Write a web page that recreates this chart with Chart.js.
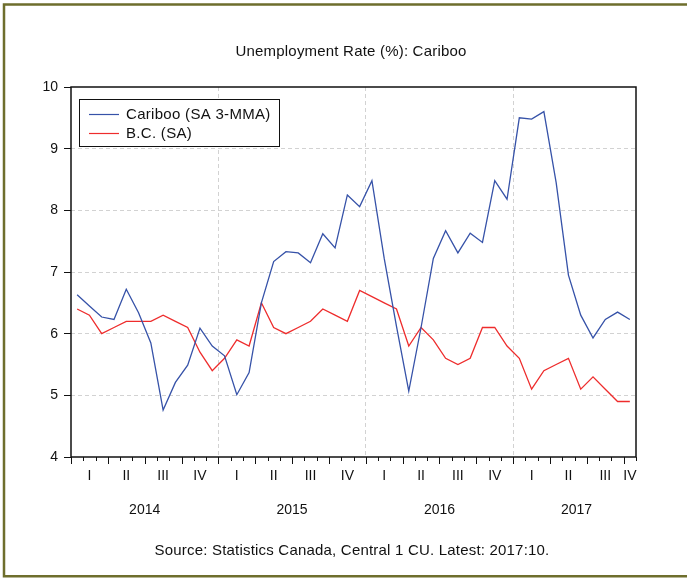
<!DOCTYPE html>
<html>
<head>
<meta charset="utf-8">
<script src="https://cdn.jsdelivr.net/npm/chart.js@4.4.0/dist/chart.umd.min.js"></script>
<style>
html, body { margin: 0; padding: 0; background: #fff; }
</style>
</head>
<body>
<canvas id="unempChart" width="687" height="578"></canvas>
<script>
// monthly data, Jan 2014 .. Oct 2017
var years = ['2014', '2015', '2016', '2017'];
var quarters = ['I', 'II', 'III', 'IV'];

var cariboo = [
	6.63, 6.45, 6.27, 6.23, 6.72, 6.34, 5.85, 4.76, 5.21, 5.49, 6.09, 5.80,
	5.64, 5.01, 5.37, 6.50, 7.17, 7.33, 7.31, 7.15, 7.62, 7.39, 8.25, 8.06,
	8.48, 7.22, 6.12, 5.07, 6.10, 7.22, 7.67, 7.31, 7.63, 7.48, 8.48, 8.18,
	9.50, 9.48, 9.60, 8.45, 6.95, 6.30, 5.93, 6.23, 6.35, 6.23
];
var bc = [
	6.4, 6.3, 6.0, 6.1, 6.2, 6.2, 6.2, 6.3, 6.2, 6.1, 5.7, 5.4,
	5.6, 5.9, 5.8, 6.5, 6.1, 6.0, 6.1, 6.2, 6.4, 6.3, 6.2, 6.7,
	6.6, 6.5, 6.4, 5.8, 6.1, 5.9, 5.6, 5.5, 5.6, 6.1, 6.1, 5.8,
	5.6, 5.1, 5.4, 5.5, 5.6, 5.1, 5.3, 5.1, 4.9, 4.9
];
var yTicks = [4, 5, 6, 7, 8, 9, 10];

var nMonths = cariboo.length;
var FONT = '"Liberation Sans", Arial, sans-serif';

function toPoints(arr) {
	return arr.map(function (v, i) { return { x: i + 0.5, y: v }; });
}

// titles, x axis labels, frame and legend
var chartText = {
	id: 'chartText',
	afterDraw: function (chart) {
		var ctx = chart.ctx, a = chart.chartArea, xs = chart.scales.x;
		ctx.save();

		// outer olive frame
		ctx.strokeStyle = '#6e6e2c';
		ctx.lineWidth = 2.5;
		ctx.beginPath();
		ctx.moveTo(720, 4.5);
		ctx.lineTo(4, 4.5);
		ctx.lineTo(4, 576.2);
		ctx.lineTo(720, 576.2);
		ctx.stroke();

		// plot box
		ctx.strokeStyle = '#111';
		ctx.lineWidth = 1.5;
		ctx.strokeRect(a.left, a.top, a.right - a.left, a.bottom - a.top);

		// month / quarter ticks
		ctx.lineWidth = 1;
		ctx.beginPath();
		for (var m = 0; m <= nMonths; m++) {
			var px = Math.round(xs.getPixelForValue(m)) + 0.5;
			var len = (m % 3 === 0) ? 7 : 4;
			ctx.moveTo(px, a.bottom);
			ctx.lineTo(px, a.bottom + len);
		}
		ctx.stroke();

		ctx.fillStyle = '#111';
		ctx.textAlign = 'center';
		ctx.textBaseline = 'middle';
		ctx.font = '14px ' + FONT;

		for (var q = 0; q * 3 < nMonths; q++) {
			var s = q * 3, e = Math.min(s + 3, nMonths);
			ctx.fillText(quarters[q % 4], xs.getPixelForValue((s + e) / 2), 476);
		}
		years.forEach(function (y, k) {
			var s = k * 12, e = Math.min(s + 12, nMonths);
			ctx.fillText(y, xs.getPixelForValue((s + e) / 2) + (e - s < 12 ? 2 : 0), 510);
		});

		ctx.font = '15px ' + FONT;
		ctx.letterSpacing = '0.2px';
		ctx.fillText('Unemployment Rate (%): Cariboo', 351, 52);
		ctx.fillText('Source: Statistics Canada, Central 1 CU. Latest: 2017:10.', 352, 551);

		// legend box
		ctx.fillStyle = '#fff';
		ctx.fillRect(79.5, 99.5, 200, 47);
		ctx.strokeStyle = '#111';
		ctx.lineWidth = 1;
		ctx.strokeRect(79.5, 99.5, 200, 47);
		ctx.textAlign = 'left';
		ctx.letterSpacing = '0.3px';
		chart.data.datasets.forEach(function (ds, i) {
			var ly = 114.5 + i * 19;
			ctx.strokeStyle = ds.borderColor;
			ctx.lineWidth = 1.2;
			ctx.beginPath();
			ctx.moveTo(89, ly);
			ctx.lineTo(119, ly);
			ctx.stroke();
			ctx.fillStyle = '#111';
			ctx.fillText(ds.label, 126, ly);
		});

		ctx.restore();
	}
};

var ctx = document.getElementById('unempChart');
var unempChart = new Chart(ctx, {
	type: 'line',
	data: {
		datasets: [
			{
				label: 'Cariboo (SA 3-MMA)',
				data: toPoints(cariboo),
				borderColor: '#3652a8',
				borderWidth: 1.3,
				pointRadius: 0,
				tension: 0,
				fill: false
			},
			{
				label: 'B.C. (SA)',
				data: toPoints(bc),
				borderColor: '#ee2c2c',
				borderWidth: 1.3,
				pointRadius: 0,
				tension: 0,
				fill: false
			}
		]
	},
	options: {
		responsive: false,
		animation: false,
		layout: { padding: { left: 0, top: 87, right: 51, bottom: 121 } },
		plugins: {
			legend: { display: false },
			tooltip: { enabled: false },
			title: { display: false }
		},
		scales: {
			x: {
				type: 'linear',
				min: 0,
				max: nMonths,
				afterBuildTicks: function (scale) {
					scale.ticks = [12, 24, 36].map(function (v) { return { value: v }; });
				},
				afterFit: function (scale) { scale.height = 0; },
				ticks: { display: false },
				grid: { color: '#d2d2d2', lineWidth: 1, drawTicks: false },
				border: { display: false, dash: [4, 3] }
			},
			y: {
				min: 4,
				max: 10,
				afterBuildTicks: function (scale) {
					scale.ticks = yTicks.map(function (v) { return { value: v }; });
				},
				afterFit: function (scale) { scale.width = 71; },
				ticks: {
					color: '#111',
					font: { family: FONT, size: 14 },
					padding: 6
				},
				grid: {
					color: function (c) {
						var v = c.tick ? c.tick.value : 0;
						return (v === 4 || v === 10) ? 'rgba(0,0,0,0)' : '#d2d2d2';
					},
					lineWidth: 1,
					tickColor: '#111',
					tickLength: 7,
					tickBorderDash: []
				},
				border: { display: false, dash: [4, 3] }
			}
		}
	},
	plugins: [chartText]
});
</script>
</body>
</html>
